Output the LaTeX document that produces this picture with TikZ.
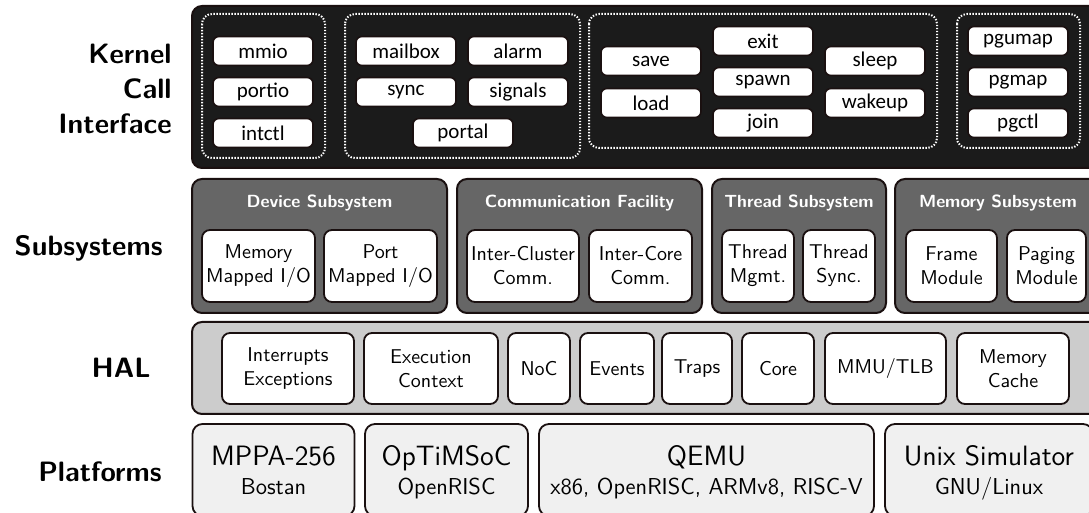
\documentclass[tikz,border=0pt]{standalone}
\usepackage{fontspec}
\newfontfamily\carlito{Carlito}
\definecolor{kernelbg}{HTML}{1B1B1B}
\definecolor{subsysbg}{HTML}{666666}
\definecolor{halbg}{HTML}{CCCCCC}
\definecolor{platbg}{HTML}{F0F0F0}
\definecolor{edge}{HTML}{1A1010}
\tikzset{
  layer/.style={draw=edge,line width=1pt,rounded corners=5pt},
  callgroup/.style={draw=white,line width=1pt,dash pattern=on 0.7pt off 0.8pt,rounded corners=5pt},
  kcall/.style={draw=edge,fill=white,line width=0.8pt,rounded corners=3pt,
    minimum width=50pt,minimum height=14.5pt,inner sep=0pt,
    font=\carlito\fontsize{10.5}{12}\selectfont},
  module/.style={draw=edge,fill=white,line width=0.9pt,rounded corners=4pt,
    minimum height=36pt,inner sep=0pt,align=center,
    font=\sffamily\fontsize{10}{12}\selectfont},
  subtitle/.style={text=white,font=\sffamily\bfseries\fontsize{8.8}{10}\selectfont},
  layerlabel/.style={align=right,anchor=east,inner sep=0pt,font=\sffamily\bfseries\fontsize{14}{17.5}\selectfont},
  platform/.style={draw=edge,fill=platbg,line width=0.9pt,rounded corners=5pt,
    minimum height=46pt,inner sep=0pt,align=center,text depth=0pt,
    font=\sffamily\fontsize{11.5}{14.5}\selectfont}
}
\newcommand{\plname}[1]{{\fontsize{14}{14.5}\selectfont #1}}
\begin{document}
\begin{tikzpicture}[x=0.5pt,y=-0.5pt]
\useasboundingbox (0,0) rectangle (1089,513);
\clip (0,0) rectangle (1089,513);
% layer names
\node[layerlabel] (kci) at (172,89) {Kernel\\Call\\Interface};
\node[layerlabel] (subsys) at (163,248) {Subsystems};
\node[layerlabel] (hal) at (151,368) {HAL};
\node[layerlabel] (plat) at (162,472) {Platforms};
% kernel calls
\draw[layer,fill=kernelbg] (192,6) rectangle (1110,168);
\draw[callgroup] (202,14) rectangle (325,158);
\draw[callgroup] (345,14) rectangle (580,158);
\draw[callgroup] (589,14) rectangle (937,148);
\draw[callgroup] (957,14) rectangle (1080,148);
\foreach \n/\x/\y in {mmio/263/51,portio/263/92,intctl/263/133,
    mailbox/406/51,alarm/518/51,sync/406/92,signals/518/92,portal/463/133,
    save/651/61,load/651/103,exit/763/41,spawn/763/82,join/763/123,
    sleep/875/61,wakeup/875/103,pgumap/1018/41,pgmap/1018/82,pgctl/1018/123}
  \node[kcall] (\n) at (\x,\y) {\n};
% subsystems
\draw[layer,fill=subsysbg] (192,179) rectangle (447,313);
\draw[layer,fill=subsysbg] (457,179) rectangle (702,313);
\draw[layer,fill=subsysbg] (712,179) rectangle (886,313);
\draw[layer,fill=subsysbg] (895,179) rectangle (1101,313);
\node[subtitle] (devt) at (319.5,203) {Device Subsystem};
\node[subtitle] (comt) at (579.5,203) {Communication Facility};
\node[subtitle] (thrt) at (799,203) {Thread Subsystem};
\node[subtitle] (memt) at (998,203) {Memory Subsystem};
\node[module,minimum width=56.5pt] (mmapio) at (258.5,266) {Memory\\Mapped I/O};
\node[module,minimum width=56.5pt] (pmapio) at (380.5,266) {Port\\Mapped I/O};
\node[module,minimum width=56pt] (icluster) at (523,266) {Inter-Cluster\\Comm.};
\node[module,minimum width=51.5pt] (icore) at (640.5,266) {Inter-Core\\Comm.};
\node[module,minimum width=36pt] (tmgmt) at (758,266) {Thread\\Mgmt.};
\node[module,minimum width=36pt] (tsync) at (839,266) {Thread\\Sync.};
\node[module,minimum width=45.5pt] (frame) at (951.5,266) {Frame\\Module};
\node[module,minimum width=39.5pt] (paging) at (1046.5,266) {Paging\\Module};
% hal
\draw[layer,fill=halbg] (192,322) rectangle (1110,414);
\node[module,minimum width=66pt,minimum height=35.5pt] (intexc) at (288,368.5) {Interrupts\\Exceptions};
\node[module,minimum width=67pt,minimum height=35.5pt] (exctx) at (431,368.5) {Execution\\Context};
\node[module,minimum width=31pt,minimum height=35.5pt] (noc) at (539,368.5) {NoC};
\node[module,minimum width=37pt,minimum height=35.5pt] (events) at (617,368.5) {Events};
\node[module,minimum width=35pt,minimum height=35.5pt] (traps) at (697,368.5) {Traps};
\node[module,minimum width=36pt,minimum height=35.5pt] (core) at (778,368.5) {Core};
\node[module,minimum width=60.5pt,minimum height=35.5pt] (mmu) at (885.5,368.5) {MMU/TLB};
\node[module,minimum width=56pt,minimum height=35.5pt] (cache) at (1013,368.5) {Memory\\Cache};
% platforms
\node[platform,minimum width=81pt] (mppa) at (273.5,470) {\plname{MPPA-256}\\Bostan};
\node[platform,minimum width=81.5pt] (optimsoc) at (446.5,470) {\plname{OpTiMSoC}\\OpenRISC};
\node[platform,minimum width=167.5pt] (qemu) at (706.5,470) {\plname{QEMU}\\x86, OpenRISC, ARMv8, RISC-V};
\node[platform,minimum width=104pt] (unix) at (989,470) {\plname{Unix Simulator}\\GNU/Linux};
\end{tikzpicture}
\end{document}
